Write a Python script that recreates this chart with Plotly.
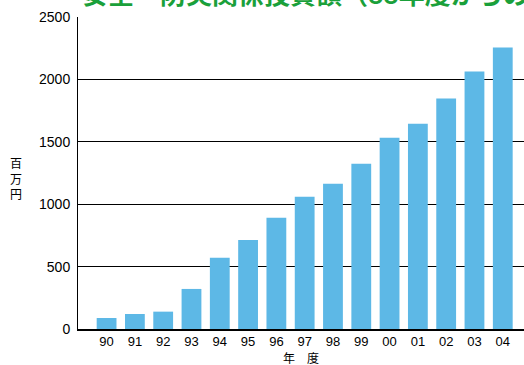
import plotly.graph_objects as go

# Fiscal years (two-digit labels) and cumulative investment (million yen)
years = ["90", "91", "92", "93", "94", "95", "96", "97", "98", "99",
         "00", "01", "02", "03", "04"]
amounts = [88, 120, 139, 321, 570, 714, 891, 1059, 1164, 1324,
           1533, 1645, 1846, 2063, 2255]
y_ticks = [0, 500, 1000, 1500, 2000, 2500]

title_text = "安全・防災関係投資額（88年度からの累計）"
x_title = "年　度"
y_title = "百<br>万<br>円"

positions = list(range(len(years)))

fig = go.Figure(
    go.Bar(
        x=positions,
        y=amounts,
        width=0.7,
        marker=dict(color="#5db8e6", line=dict(width=0)),
        hoverinfo="skip",
    )
)

num_family = "Liberation Sans, Arial, sans-serif"
cjk_font = "Noto Sans CJK JP, sans-serif"

fig.update_layout(
    width=524,
    height=365,
    margin=dict(l=78, r=0, t=17, b=36),
    paper_bgcolor="#ffffff",
    plot_bgcolor="#ffffff",
    showlegend=False,
    bargap=0.3,
    xaxis=dict(
        range=[-1.01, 14.75],
        tickmode="array",
        tickvals=positions,
        ticktext=years,
        tickfont=dict(family=num_family, size=13, color="#000000"),
        showgrid=False,
        zeroline=False,
        showline=True,
        linecolor="#000000",
        linewidth=1.5,
        ticks="",
        fixedrange=True,
    ),
    yaxis=dict(
        range=[0, 2500],
        tickmode="array",
        tickvals=y_ticks,
        tickfont=dict(family=num_family, size=14, color="#000000"),
        showgrid=True,
        gridcolor="#000000",
        gridwidth=1,
        zeroline=False,
        showline=True,
        linecolor="#000000",
        linewidth=1,
        ticks="",
        ticklabelstandoff=4,
        fixedrange=True,
    ),
    annotations=[
        dict(
            text="<b>" + title_text + "</b>",
            xref="paper", yref="paper",
            x=0.0045, y=1.077,
            xanchor="left", yanchor="middle",
            showarrow=False,
            font=dict(family=cjk_font, size=26, color="#1aa03a"),
        ),
        dict(
            text=x_title,
            xref="paper", yref="paper",
            x=0.5, y=-0.09,
            xanchor="center", yanchor="middle",
            showarrow=False,
            font=dict(family=cjk_font, size=12, color="#000000"),
        ),
        dict(
            text=y_title,
            xref="paper", yref="paper",
            x=-0.139, y=0.484,
            xanchor="center", yanchor="middle",
            showarrow=False,
            font=dict(family=cjk_font, size=12, color="#000000"),
        ),
    ],
)

fig.write_html("out.html")
